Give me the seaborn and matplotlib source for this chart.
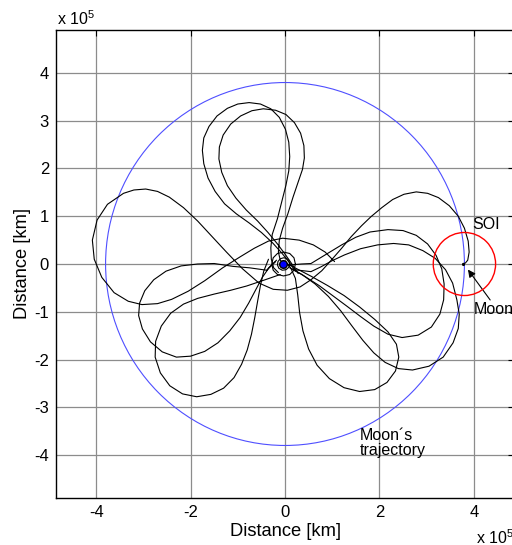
import matplotlib
matplotlib.use("Agg")
import matplotlib.pyplot as plt
from matplotlib.patches import Circle
import pandas as pd
import seaborn as sns

# all distances in units of 1e5 km
upper_outer = [
	(0.22, -0.15), (0.10, 0.02), (-0.06, 0.22), (-0.26, 0.44), (-0.50, 0.66),
	(-0.76, 0.86), (-1.03, 1.05), (-1.28, 1.26), (-1.48, 1.52), (-1.63, 1.80),
	(-1.72, 2.10), (-1.75, 2.38), (-1.72, 2.64), (-1.61, 2.88), (-1.44, 3.10),
	(-1.22, 3.26), (-1.00, 3.35), (-0.76, 3.38), (-0.52, 3.35), (-0.30, 3.25),
	(-0.12, 3.07), (0.01, 2.82), (0.08, 2.55), (0.10, 2.25), (0.08, 1.95),
	(0.02, 1.65), (-0.07, 1.30), (-0.16, 0.95), (-0.27, 0.62), (-0.30, 0.34),
	(-0.29, 0.10), (-0.24, -0.08), (-0.14, -0.18),
]
upper_inner = [
	(0.28, -0.20), (0.16, -0.02), (0.02, 0.18), (-0.16, 0.42), (-0.36, 0.66),
	(-0.58, 0.90), (-0.82, 1.13), (-1.04, 1.38), (-1.22, 1.64), (-1.34, 1.92),
	(-1.40, 2.20), (-1.39, 2.45), (-1.31, 2.70), (-1.15, 2.93), (-0.94, 3.10),
	(-0.70, 3.21), (-0.46, 3.25), (-0.20, 3.22), (0.02, 3.13), (0.20, 2.96),
	(0.33, 2.74), (0.40, 2.48), (0.41, 2.22), (0.37, 1.98), (0.28, 1.72),
	(0.17, 1.40), (0.06, 1.05), (-0.05, 0.75), (-0.12, 0.50), (-0.14, 0.25),
	(-0.10, 0.08), (0.00, -0.02),
]
left_to_moon = [
	(1.05, 0.05), (0.85, 0.25), (0.60, 0.40), (0.30, 0.50), (-0.05, 0.54),
	(-0.35, 0.48), (-0.65, 0.33), (-0.95, 0.15), (-1.32, -0.08), (-1.70, -0.35),
	(-2.05, -0.57), (-2.40, -0.74), (-2.70, -0.83), (-3.03, -0.85), (-3.32, -0.78),
	(-3.62, -0.60), (-3.88, -0.28), (-4.04, 0.10), (-4.08, 0.50), (-3.98, 0.92),
	(-3.76, 1.25), (-3.42, 1.48), (-3.20, 1.55), (-2.95, 1.57), (-2.70, 1.52),
	(-2.45, 1.40), (-2.15, 1.18), (-1.85, 0.90), (-1.55, 0.58), (-1.24, 0.25),
	(-0.90, -0.10), (-0.55, -0.40), (-0.25, -0.53), (0.05, -0.55), (0.32, -0.48),
	(0.55, -0.33), (0.78, -0.14), (0.98, 0.08), (1.20, 0.33), (1.40, 0.57),
	(1.62, 0.80), (1.82, 0.99), (2.05, 1.18), (2.28, 1.35), (2.52, 1.46),
	(2.78, 1.51), (3.02, 1.48), (3.25, 1.39), (3.48, 1.22), (3.67, 1.00),
	(3.80, 0.75), (3.88, 0.48), (3.90, 0.25), (3.87, 0.08), (3.82, 0.02),
	(3.77, 0.01),
]
lower_left_small = [
	(-0.20, 0.05), (-0.39, -0.13), (-0.75, -0.08), (-1.10, -0.05), (-1.50, 0.01),
	(-1.85, 0.00), (-2.20, -0.04), (-2.52, -0.15), (-2.78, -0.33), (-2.97, -0.56),
	(-3.08, -0.82), (-3.10, -1.08), (-3.02, -1.36), (-2.85, -1.63), (-2.60, -1.84),
	(-2.30, -1.95), (-2.00, -1.93), (-1.70, -1.83), (-1.42, -1.65), (-1.17, -1.40),
	(-0.95, -1.12), (-0.77, -0.82), (-0.62, -0.54), (-0.48, -0.28), (-0.34, -0.08),
	(-0.18, 0.08),
]
lower_left_large = [
	(-0.10, -0.22), (-0.45, -0.34), (-0.81, -0.46), (-1.15, -0.55), (-1.50, -0.63),
	(-1.85, -0.72), (-2.15, -0.84), (-2.42, -1.03), (-2.62, -1.30), (-2.74, -1.62),
	(-2.75, -1.95), (-2.64, -2.28), (-2.44, -2.55), (-2.17, -2.72), (-1.87, -2.78),
	(-1.57, -2.73), (-1.30, -2.60), (-1.08, -2.38), (-0.92, -2.10), (-0.80, -1.80),
	(-0.71, -1.47), (-0.64, -1.12), (-0.58, -0.78), (-0.52, -0.45), (-0.45, -0.15),
	(-0.35, 0.10),
]
bottom_petal = [
	(0.00, 0.05), (0.12, -0.08), (0.22, -0.30), (0.27, -0.65), (0.31, -1.02),
	(0.38, -1.40), (0.50, -1.78), (0.68, -2.12), (0.94, -2.40), (1.25, -2.59),
	(1.58, -2.67), (1.90, -2.63), (2.16, -2.48), (2.34, -2.24), (2.41, -1.95),
	(2.36, -1.68), (2.18, -1.42), (1.90, -1.16), (1.58, -0.90), (1.25, -0.66),
	(0.90, -0.45), (0.56, -0.26), (0.25, -0.10), (0.02, 0.02),
]
right_small = [
	(0.10, -0.02), (0.35, 0.00), (0.55, 0.01), (0.90, 0.22), (1.20, 0.40),
	(1.50, 0.56), (1.80, 0.67), (2.18, 0.72), (2.50, 0.70), (2.78, 0.60),
	(3.02, 0.42), (3.20, 0.18), (3.32, -0.10), (3.37, -0.42), (3.36, -0.75),
	(3.28, -1.05), (3.10, -1.32), (2.82, -1.49), (2.48, -1.54), (2.18, -1.47),
	(1.88, -1.30), (1.60, -1.10), (1.32, -0.89), (1.02, -0.67), (0.72, -0.45),
	(0.42, -0.26), (0.15, -0.10),
]
right_large = [
	(0.20, -0.12), (0.55, -0.16), (0.76, -0.06), (1.00, 0.07), (1.26, 0.19),
	(1.60, 0.32), (1.96, 0.40), (2.30, 0.43), (2.62, 0.40), (2.92, 0.28),
	(3.18, 0.12), (3.40, -0.12), (3.55, -0.40), (3.64, -0.75), (3.69, -1.05),
	(3.67, -1.35), (3.56, -1.65), (3.35, -1.95), (3.05, -2.14), (2.70, -2.22),
	(2.40, -2.19), (2.12, -2.06), (1.88, -1.86), (1.65, -1.60), (1.42, -1.30),
	(1.18, -0.98), (0.92, -0.68), (0.64, -0.42), (0.36, -0.22), (0.10, -0.08),
]
earth_ring_inner = [
	(0.10, 0.00), (0.08, 0.08), (0.03, 0.12), (-0.03, 0.13), (-0.10, 0.11),
	(-0.15, 0.05), (-0.16, -0.02), (-0.13, -0.09), (-0.06, -0.13), (0.02, -0.12),
	(0.08, -0.07), (0.10, 0.00),
]
earth_ring_outer = [
	(0.22, 0.00), (0.19, 0.13), (0.10, 0.22), (-0.03, 0.25), (-0.16, 0.22),
	(-0.25, 0.13), (-0.28, 0.00), (-0.25, -0.13), (-0.16, -0.22), (-0.03, -0.25),
	(0.10, -0.22), (0.19, -0.13), (0.22, 0.00),
]

earth_position = (-0.04, 0.0)
moon_position = (3.8, 0.0)
moon_orbit_radius = 3.8
soi_radius = 0.66

x_ticks = [-4, -2, 0, 2, 4]
y_ticks = [-4, -3, -2, -1, 0, 1, 2, 3, 4]
x_limits = (-4.85, 4.85)
y_limits = (-4.9, 4.9)


def main() -> None:
	sns.set_theme(style="white")
	plt.rcParams["font.family"] = ["Liberation Sans", "DejaVu Sans"]
	plt.rcParams["axes.unicode_minus"] = False
	plt.rcParams["mathtext.fontset"] = "custom"
	plt.rcParams["mathtext.rm"] = "Liberation Sans"
	plt.rcParams["text.color"] = "black"
	plt.rcParams["axes.labelcolor"] = "black"

	strokes = {
		"upper_outer": upper_outer,
		"upper_inner": upper_inner,
		"left_to_moon": left_to_moon,
		"lower_left_small": lower_left_small,
		"lower_left_large": lower_left_large,
		"bottom_petal": bottom_petal,
		"right_small": right_small,
		"right_large": right_large,
		"earth_ring_inner": earth_ring_inner,
		"earth_ring_outer": earth_ring_outer,
	}
	rows = [
		{"segment": name, "order": i, "x": x, "y": y}
		for name, points in strokes.items()
		for i, (x, y) in enumerate(points)
	]
	trajectory = pd.DataFrame(rows)

	fig = plt.figure(figsize=(5.12, 5.45), dpi=100)
	ax = fig.add_axes([56 / 512, 47 / 545, 458 / 512, 468 / 545])

	ax.add_patch(Circle((0, 0), moon_orbit_radius, fill=False, edgecolor="#4f4fff", linewidth=0.8, zorder=2))
	sns.lineplot(
		data=trajectory,
		x="x",
		y="y",
		units="segment",
		estimator=None,
		sort=False,
		color="black",
		linewidth=0.8,
		ax=ax,
		zorder=3,
	)
	ax.add_patch(Circle(moon_position, soi_radius, fill=False, edgecolor="red", linewidth=1.0, zorder=4))
	sns.scatterplot(
		x=[earth_position[0]], y=[earth_position[1]],
		color="blue", edgecolor="black", linewidth=1.0, s=30, ax=ax, zorder=5,
	)
	end_x, end_y = left_to_moon[-1]
	sns.scatterplot(x=[end_x], y=[end_y], color="black", s=5, linewidth=0, ax=ax, zorder=5)

	ax.set_xlim(*x_limits)
	ax.set_ylim(*y_limits)
	ax.set_xticks(x_ticks)
	ax.set_yticks(y_ticks)
	ax.set_xticklabels([str(t) for t in x_ticks])
	ax.set_yticklabels([str(t) for t in y_ticks])
	ax.grid(True, color="0.55", linewidth=0.9)
	ax.set_axisbelow(True)
	ax.tick_params(direction="in", top=True, right=True, length=4, width=0.8,
		labelsize=12, colors="black", pad=5)
	for spine in ax.spines.values():
		spine.set_color("black")
		spine.set_linewidth(1.0)

	ax.set_xlabel("Distance [km]", fontsize=13.2, color="black", labelpad=2)
	ax.set_ylabel("Distance [km]", fontsize=13.2, color="black", labelpad=2)

	ax.text(3.97, 0.82, "SOI", fontsize=11.5, color="black", ha="left", va="center")
	ax.text(4.0, -0.95, "Moon", fontsize=11.5, color="black", ha="left", va="center")
	ax.text(1.58, -3.75, "Moon\u00b4s\ntrajectory", fontsize=11.5, color="black",
		ha="left", va="center", linespacing=1.05)
	ax.annotate(
		"", xy=(3.84, -0.07), xytext=(4.38, -0.80),
		arrowprops=dict(arrowstyle="-|>", color="black", lw=0.8, mutation_scale=11),
	)

	fig.text(57 / 512, 1 - 19 / 545, r"x 10$^{5}$", fontsize=11.5, color="black", ha="left", va="center")
	fig.text(476 / 512, 1 - 538 / 545, r"x 10$^{5}$", fontsize=11.5, color="black", ha="left", va="center")

	fig.savefig("out.png", dpi=100)
	plt.close(fig)


if __name__ == "__main__":
	main()
